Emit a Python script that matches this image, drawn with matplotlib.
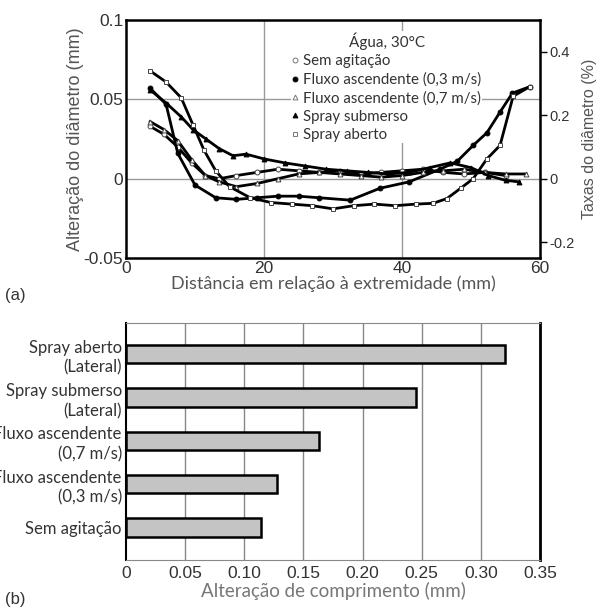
import numpy as np
import matplotlib.pyplot as plt
from matplotlib.lines import Line2D

# (a) diameter change along the bar
x_sem = [3.5, 5.5, 7.5, 9.5, 11.5, 13.5, 16, 19, 22, 25, 28, 31, 34, 37, 40, 43, 46, 49, 52, 55]
y_sem = [0.033, 0.028, 0.020, 0.010, 0.002, 0.000, 0.002, 0.004, 0.006, 0.005, 0.004, 0.005, 0.003, 0.004, 0.005, 0.006, 0.004, 0.003, 0.004, 0.002]

x_f03 = [3.5, 5.8, 7.5, 10, 13, 16, 19, 22, 25, 28, 32.5, 36.8, 41, 45.5, 48, 50.3, 52.3, 54.2, 56, 58.5]
y_f03 = [0.057, 0.047, 0.016, -0.004, -0.012, -0.013, -0.012, -0.011, -0.011, -0.012, -0.0135, -0.006, -0.002, 0.006, 0.011, 0.021, 0.029, 0.042, 0.054, 0.058]

x_f07 = [3.5, 5.5, 7.5, 9.5, 11.5, 13.5, 16, 19, 22, 25, 28, 31, 34, 37, 40, 43, 46, 49, 52, 55, 58]
y_f07 = [0.036, 0.031, 0.024, 0.012, 0.002, -0.002, -0.005, -0.003, 0.000, 0.003, 0.004, 0.003, 0.002, 0.001, 0.002, 0.004, 0.005, 0.006, 0.004, 0.003, 0.003]

x_sub = [3.5, 6, 8, 9.7, 11.6, 13.5, 15.5, 17.4, 20, 23, 26, 29, 32, 35, 38, 41, 44, 47, 50, 52.5, 55, 57]
y_sub = [0.056, 0.047, 0.039, 0.031, 0.025, 0.019, 0.0145, 0.0155, 0.0125, 0.010, 0.008, 0.006, 0.005, 0.004, 0.003, 0.004, 0.007, 0.010, 0.007, 0.002, -0.001, -0.002]

x_abe = [3.5, 5.8, 8, 9.7, 11.3, 13, 15, 18, 21, 24, 27, 30, 33, 36, 39, 42, 44.5, 46.5, 48.5, 50.3, 52.3, 54.2, 56.1, 58.5]
y_abe = [0.068, 0.061, 0.051, 0.034, 0.018, 0.005, -0.005, -0.012, -0.015, -0.016, -0.017, -0.019, -0.017, -0.016, -0.017, -0.016, -0.0155, -0.0125, -0.006, 0.000, 0.0125, 0.021, 0.052, 0.058]

# (b) length change
bar_labels = ["Spray aberto\n(Lateral)", "Spray submerso\n(Lateral)", "Fluxo ascendente\n(0,7 m/s)",
              "Fluxo ascendente\n(0,3 m/s)", "Sem agitação"]
bar_values = [0.320, 0.245, 0.163, 0.128, 0.114]

arial = "Liberation Sans"
cali = "Lato"
grey = "#555555"

fig = plt.figure(figsize=(6.03, 6.10), dpi=100)

# ---------- (a) ----------
ax = fig.add_axes([0.209, 0.577, 0.6866, 0.39])
series = [
    (x_sem, y_sem, "o", "white", "Sem agitação"),
    (x_f03, y_f03, "o", "black", "Fluxo ascendente (0,3 m/s)"),
    (x_f07, y_f07, "^", "white", "Fluxo ascendente (0,7 m/s)"),
    (x_sub, y_sub, "^", "black", "Spray submerso"),
    (x_abe, y_abe, "s", "white", "Spray aberto"),
]
for xs, ys, m, fc, lab in series:
    ax.plot(xs, ys, color="black", lw=2.0, marker=m, ms=3.5, mfc=fc, mec="black" if fc == "black" else "#444444",
            mew=0.7, zorder=3)

ax.set_xlim(0, 60)
ax.set_ylim(-0.05, 0.1)
ax.set_xticks([0, 20, 40, 60])
ax.set_yticks([-0.05, 0, 0.05, 0.1])
ax.set_yticklabels(["-0.05", "0", "0.05", "0.1"])
for v in [20, 40]:
    ax.axvline(v, color="#999999", lw=1.0, zorder=1)
for v in [0, 0.05]:
    ax.axhline(v, color="#999999", lw=1.0, zorder=1)
for s in ax.spines.values():
    s.set_linewidth(1.8)
ax.tick_params(length=0, labelsize=12.5, labelcolor="#333333", pad=2)
for t in ax.get_xticklabels() + ax.get_yticklabels():
    t.set_fontfamily(arial)
ax.set_xlabel("Distância em relação à extremidade (mm)", fontfamily=cali, fontsize=13, color=grey, labelpad=0)
ax.set_ylabel("Alteração do diâmetro (mm)", fontfamily=arial, fontsize=13, color=grey, labelpad=0)

sec = ax.secondary_yaxis("right", functions=(lambda v: v * 5, lambda v: v / 5))
sec.set_yticks([-0.2, 0, 0.2, 0.4])
sec.set_yticklabels(["-0.2", "0", "0.2", "0.4"])
sec.tick_params(length=5, width=1, labelsize=10.5, labelcolor="#333333", pad=2)
for t in sec.get_yticklabels():
    t.set_fontfamily(arial)
sec.set_ylabel("Taxas do diâmetro (%)", fontfamily=arial, fontsize=11.5, color=grey, labelpad=5)

handles = [Line2D([], [], ls="none", marker=m, ms=3.5, mfc=fc, mec="black" if fc == "black" else "#777777", mew=0.7)
           for _, _, m, fc, _ in series]
leg = ax.legend(handles, [s[4] for s in series], title="Água, 30°C", loc="upper left",
                bbox_to_anchor=(0.38, 0.985), frameon=True, framealpha=1, edgecolor="none", facecolor="white",
                handlelength=0.4, handletextpad=0.3, labelspacing=0.28, borderpad=0.1,
                prop={"family": cali, "size": 10.8})
leg.get_title().set_fontfamily(cali)
leg.get_title().set_fontsize(11)
leg.get_title().set_color("#333333")
for t in leg.get_texts():
    t.set_color("#333333")
leg.set_zorder(2)

fig.text(0.008, 0.508, "(a)", fontfamily=arial, fontsize=12, color="#333333")

# ---------- (b) ----------
bx = fig.add_axes([0.209, 0.082, 0.6866, 0.3885])
pos = np.arange(len(bar_values))
bx.barh(pos, bar_values, height=0.42, color="#c4c4c4", edgecolor="black", lw=1.8, zorder=3)
bx.set_ylim(4.75, -0.72)
bx.set_xlim(0, 0.35)
bx.set_xticks(np.arange(0, 0.351, 0.05))
bx.set_xticklabels(["0", "0.05", "0.10", "0.15", "0.20", "0.25", "0.30", "0.35"])
bx.set_yticks(pos)
bx.set_yticklabels(bar_labels, fontfamily=cali, fontsize=12, color="#333333", linespacing=1.3)
for v in np.arange(0.05, 0.35, 0.05):
    bx.axvline(v, color="#888888", lw=1.0, zorder=1)
bx.spines["right"].set_linewidth(2.0)
bx.spines["left"].set_linewidth(1.5)
bx.spines["top"].set_color("#888888")
bx.spines["bottom"].set_color("#888888")
bx.tick_params(axis="x", length=0, labelsize=12.5, labelcolor="#333333", pad=4)
bx.tick_params(axis="y", length=0, pad=3)
for t in bx.get_xticklabels():
    t.set_fontfamily(arial)
bx.set_xlabel("Alteração de comprimento (mm)", fontfamily=cali, fontsize=13.5, color="#777777", labelpad=1)

fig.text(0.008, 0.01, "(b)", fontfamily=arial, fontsize=12, color="#333333")

fig.savefig("out.png", dpi=100)
